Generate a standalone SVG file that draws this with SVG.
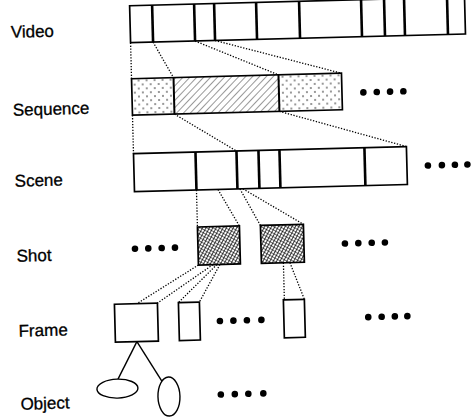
<svg xmlns="http://www.w3.org/2000/svg" width="473" height="419" viewBox="0 0 473 419">
<defs>
<pattern id="dots" width="8" height="8" patternUnits="userSpaceOnUse">
<rect width="8" height="8" fill="#fff"/>
<circle cx="2" cy="2" r="0.75" fill="#000"/>
<circle cx="6" cy="6" r="0.75" fill="#000"/>
</pattern>
<pattern id="hatch" width="5" height="5" patternUnits="userSpaceOnUse" patternTransform="rotate(45)">
<rect width="5" height="5" fill="#fff"/>
<line x1="0" y1="0" x2="0" y2="5" stroke="#000" stroke-width="0.8"/>
</pattern>
<pattern id="cross" width="3" height="3" patternUnits="userSpaceOnUse" patternTransform="rotate(30)">
<rect width="3" height="3" fill="#fff"/>
<line x1="0" y1="0" x2="0" y2="3" stroke="#000" stroke-width="1.5"/>
<line x1="0" y1="0" x2="3" y2="0" stroke="#000" stroke-width="1.1"/>
</pattern>
</defs>
<style>
.box{fill:#fff;stroke:#000;stroke-width:1.7}
.div{stroke:#000;stroke-width:2.6}
.dot{stroke:#000;stroke-width:1.3;stroke-dasharray:1.3 1.6;fill:none}
.solid{stroke:#000;stroke-width:1.4;fill:none}
.lbl{font-family:"Liberation Sans",Arial,sans-serif;font-size:17px;fill:#000;stroke:#000;stroke-width:0.3}
.ell{fill:#000}
</style>
<rect width="473" height="419" fill="#fff"/>
<g transform="rotate(-1.5 237 210)">
<g id="labels">
<text class="lbl" x="15.5" y="32">Video</text>
<text class="lbl" x="15.5" y="110">Sequence</text>
<text class="lbl" x="15.5" y="181">Scene</text>
<text class="lbl" x="15.5" y="256">Shot</text>
<text class="lbl" x="15.5" y="331">Frame</text>
<text class="lbl" x="15.5" y="404">Object</text>
</g>
<g id="connectors">
<line class="dot" x1="135" y1="40" x2="135" y2="76"/>
<line class="dot" x1="157.5" y1="40" x2="177" y2="76"/>
<line class="dot" x1="199.5" y1="40" x2="282" y2="76"/>
<line class="dot" x1="219.5" y1="40" x2="345" y2="76"/>
<line class="dot" x1="135" y1="112.5" x2="135" y2="151"/>
<line class="dot" x1="177" y1="112.5" x2="238" y2="151"/>
<line class="dot" x1="282" y1="112.5" x2="408" y2="151"/>
<line class="dot" x1="197" y1="189" x2="197" y2="226"/>
<line class="dot" x1="218.5" y1="189" x2="239" y2="226"/>
<line class="dot" x1="240.5" y1="189" x2="260" y2="226"/>
<line class="dot" x1="243.5" y1="189" x2="303" y2="226"/>
<line class="dot" x1="197" y1="264" x2="134.5" y2="301"/>
<line class="dot" x1="211.5" y1="264" x2="155" y2="301"/>
<line class="dot" x1="215.5" y1="264" x2="176" y2="301"/>
<line class="dot" x1="218.5" y1="264" x2="197" y2="301"/>
<line class="dot" x1="282" y1="264" x2="282" y2="301"/>
<line class="dot" x1="288.5" y1="264" x2="302" y2="301"/>
<line class="solid" x1="133.5" y1="339" x2="113.6" y2="376"/>
<line class="solid" x1="133.5" y1="339" x2="158" y2="380"/>
</g>
<g id="video">
<rect class="box" x="135" y="3" width="335" height="37"/>
<line class="div" x1="157.5" y1="3" x2="157.5" y2="40"/>
<line class="div" x1="199.5" y1="3" x2="199.5" y2="40"/>
<line class="div" x1="219.5" y1="3" x2="219.5" y2="40"/>
<line class="div" x1="261.5" y1="3" x2="261.5" y2="40"/>
<line class="div" x1="304.5" y1="3" x2="304.5" y2="40"/>
<line class="div" x1="366.5" y1="3" x2="366.5" y2="40"/>
<line class="div" x1="389.5" y1="3" x2="389.5" y2="40"/>
<line class="div" x1="409.5" y1="3" x2="409.5" y2="40"/>
<line class="div" x1="452.5" y1="3" x2="452.5" y2="40"/>
</g>
<g id="sequence">
<rect x="135" y="76" width="42" height="36.5" fill="url(#dots)"/>
<rect x="177" y="76" width="105" height="36.5" fill="url(#hatch)"/>
<rect x="282" y="76" width="63" height="36.5" fill="url(#dots)"/>
<rect class="box" x="135" y="76" width="210" height="36.5" style="fill:none"/>
<line class="div" x1="177" y1="76" x2="177" y2="112.5" style="stroke-width:2"/>
<line class="div" x1="282" y1="76" x2="282" y2="112.5" style="stroke-width:2"/>
<circle class="ell" cx="366.4" cy="95.7" r="3.3"/>
<circle class="ell" cx="379.8" cy="95.7" r="3.3"/>
<circle class="ell" cx="393.1" cy="95.7" r="3.3"/>
<circle class="ell" cx="406.4" cy="95.7" r="3.3"/>
</g>
<g id="scene">
<rect class="box" x="135" y="151" width="273" height="38"/>
<line class="div" x1="197" y1="151" x2="197" y2="189"/>
<line class="div" x1="238" y1="151" x2="238" y2="189"/>
<line class="div" x1="260" y1="151" x2="260" y2="189"/>
<line class="div" x1="281" y1="151" x2="281" y2="189"/>
<line class="div" x1="366" y1="151" x2="366" y2="189"/>
<circle class="ell" cx="429" cy="170.5" r="3.3"/>
<circle class="ell" cx="443" cy="170.5" r="3.3"/>
<circle class="ell" cx="456" cy="170.5" r="3.3"/>
<circle class="ell" cx="468.5" cy="170.5" r="3.3"/>
</g>
<g id="shot">
<rect class="box" x="197" y="226" width="42" height="38" style="fill:url(#cross)"/>
<rect class="box" x="260" y="226" width="43" height="38" style="fill:url(#cross)"/>
<circle class="ell" cx="134" cy="246" r="3.3"/>
<circle class="ell" cx="147.3" cy="246" r="3.3"/>
<circle class="ell" cx="160.7" cy="246" r="3.3"/>
<circle class="ell" cx="174" cy="246" r="3.3"/>
<circle class="ell" cx="344" cy="246.3" r="3.3"/>
<circle class="ell" cx="357.4" cy="246.3" r="3.3"/>
<circle class="ell" cx="370.8" cy="246.3" r="3.3"/>
<circle class="ell" cx="384" cy="246.3" r="3.3"/>
</g>
<g id="frame">
<rect class="box" x="112" y="301" width="43" height="38"/>
<rect class="box" x="176" y="301" width="21" height="38"/>
<rect class="box" x="281" y="301" width="21" height="38"/>
<circle class="ell" cx="217" cy="320.5" r="3.3"/>
<circle class="ell" cx="230.5" cy="320.5" r="3.3"/>
<circle class="ell" cx="244" cy="320.5" r="3.3"/>
<circle class="ell" cx="258.5" cy="320.5" r="3.3"/>
<circle class="ell" cx="365.4" cy="320.5" r="3.3"/>
<circle class="ell" cx="378.8" cy="320.5" r="3.3"/>
<circle class="ell" cx="392" cy="320.5" r="3.3"/>
<circle class="ell" cx="404.5" cy="320.5" r="3.3"/>
</g>
<g id="object">
<ellipse class="box" cx="112.8" cy="385.4" rx="20.5" ry="9.5" style="stroke-width:1.4"/>
<ellipse class="box" cx="164.1" cy="394.7" rx="11" ry="19.5" style="stroke-width:1.4"/>
<circle class="ell" cx="216" cy="394" r="3.3"/>
<circle class="ell" cx="230" cy="394" r="3.3"/>
<circle class="ell" cx="243.5" cy="394" r="3.3"/>
<circle class="ell" cx="258.5" cy="394" r="3.3"/>
</g>
</g>
</svg>
